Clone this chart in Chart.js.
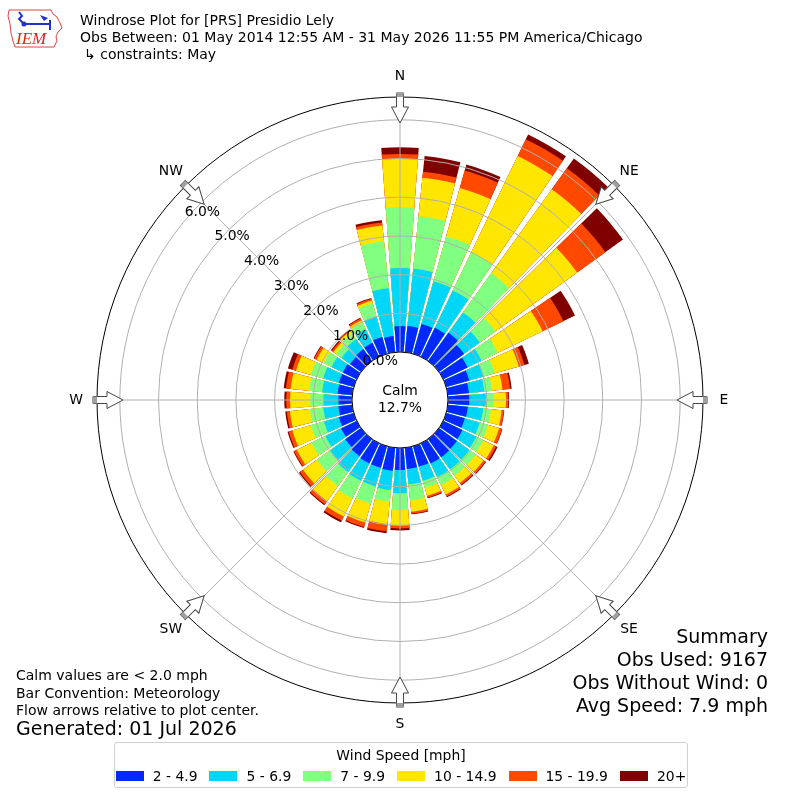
<!DOCTYPE html>
<html>
<head>
<meta charset="utf-8">
<script src="https://cdn.jsdelivr.net/npm/chart.js@4.4.1/dist/chart.umd.min.js"></script>
<style>
  body { margin: 0; background: #fff; font-family: "DejaVu Sans", sans-serif; color: #000; }
  #wrap { position: relative; width: 800px; height: 800px; overflow: hidden; background: #fff; }
  #rose { position: absolute; left: 0; top: 0; }
  .t { position: absolute; white-space: nowrap; line-height: 1; transform: translateY(-50%); }
  .s14 { font-size: 14px; }
  .s19 { font-size: 19px; }
  .r { text-align: right; right: 32px; }
  #legend { position: absolute; left: 114px; top: 742px; width: 574px; height: 46px;
            border: 1px solid #d0d0d0; border-radius: 3px; box-sizing: border-box; }
  #legend .title { position: absolute; left: 0; right: 0; top: 4px; text-align: center; font-size: 13.9px; }
  #legend .row { position: absolute; left: 0; right: 0; top: 25px; display: flex; justify-content: center; gap: 12px; font-size: 13.9px; }
  #legend .item { display: flex; align-items: center; gap: 9px; }
  #legend .sw { width: 28px; height: 10px; }
</style>
</head>
<body>
<div id="wrap">
  <canvas id="rose" width="800" height="800"></canvas>

  <div class="t s14" style="left:80px; top:20px;">Windrose Plot for [PRS] Presidio Lely</div>
  <div class="t s14" style="left:80px; top:37px;">Obs Between: 01 May 2014 12:55 AM - 31 May 2026 11:55 PM America/Chicago</div>
  <div class="t s14" style="left:84px; top:54px;">↳ constraints: May</div>

  <div class="t s19 r" style="top:636px;">Summary</div>
  <div class="t s19 r" style="top:659px;">Obs Used: 9167</div>
  <div class="t s19 r" style="top:682px;">Obs Without Wind: 0</div>
  <div class="t s19 r" style="top:705px;">Avg Speed: 7.9 mph</div>

  <div class="t s14" style="left:16px; top:675px;">Calm values are &lt; 2.0 mph</div>
  <div class="t s14" style="left:16px; top:693px;">Bar Convention: Meteorology</div>
  <div class="t s14" style="left:16px; top:710px;">Flow arrows relative to plot center.</div>
  <div class="t s19" style="left:16px; top:728px;">Generated: 01 Jul 2026</div>

  <div id="legend">
    <div class="title">Wind Speed [mph]</div>
    <div class="row" id="legendRow"></div>
  </div>
</div>

<script>
// wind direction bins (degrees, direction wind blows from)
const directions = [0, 10, 20, 30, 40, 50, 60, 70, 80, 90, 100, 110, 120, 130, 140, 150, 160, 170,
                    180, 190, 200, 210, 220, 230, 240, 250, 260, 270, 280, 290, 300, 310, 320, 330, 340, 350];

const speedBins = ['2 - 4.9', '5 - 6.9', '7 - 9.9', '10 - 14.9', '15 - 19.9', '20+'];
const binColors = ['#0028ff', '#00d6f8', '#80ff80', '#ffe600', '#ff4800', '#800000'];

// frequency (% of obs) per direction for each speed bin
const freq2to5 = [0.67, 0.68, 0.80, 0.83, 0.90, 0.80, 0.70, 0.62, 0.55, 0.55, 0.52, 0.50,
                  0.55, 0.57, 0.58, 0.58, 0.55, 0.55, 0.57, 0.60, 0.58, 0.58, 0.55, 0.50,
                  0.45, 0.40, 0.36, 0.35, 0.38, 0.40, 0.40, 0.35, 0.38, 0.40, 0.45, 0.42];
const freq5to7 = [1.50, 1.49, 1.15, 1.07, 0.65, 0.50, 0.40, 0.38, 0.40, 0.43, 0.40, 0.40,
                  0.40, 0.40, 0.39, 0.39, 0.38, 0.40, 0.60, 0.50, 0.50, 0.50, 0.50, 0.48,
                  0.45, 0.40, 0.39, 0.39, 0.40, 0.42, 0.32, 0.27, 0.32, 0.40, 0.55, 1.24];
const freq7to10 = [1.58, 1.36, 1.20, 1.10, 1.25, 0.50, 0.47, 0.30, 0.20, 0.19, 0.20, 0.22,
                   0.20, 0.20, 0.20, 0.23, 0.19, 0.42, 0.43, 0.30, 0.46, 0.50, 0.45, 0.42,
                   0.40, 0.35, 0.35, 0.34, 0.34, 0.33, 0.23, 0.18, 0.18, 0.18, 0.35, 1.22];
const freq10to15 = [1.25, 1.00, 1.30, 2.76, 2.67, 2.60, 1.28, 0.65, 0.27, 0.33, 0.28, 0.30,
                    0.30, 0.25, 0.23, 0.27, 0.21, 0.29, 0.40, 0.58, 0.51, 0.52, 0.48, 0.45,
                    0.42, 0.50, 0.52, 0.52, 0.48, 0.40, 0.20, 0.08, 0.07, 0.07, 0.08, 0.41];
const freq15to20 = [0.12, 0.16, 0.47, 0.48, 0.67, 0.90, 0.60, 0.15, 0.20, 0.06, 0.06, 0.08,
                    0.07, 0.06, 0.06, 0.06, 0.05, 0.05, 0.08, 0.19, 0.12, 0.12, 0.10, 0.10,
                    0.08, 0.10, 0.08, 0.10, 0.12, 0.10, 0.07, 0.05, 0.03, 0.05, 0.05, 0.08];
const freq20up = [0.17, 0.41, 0.16, 0.14, 0.31, 0.56, 0.33, 0.12, 0.04, 0.02, 0.01, 0.01,
                  0.04, 0.02, 0.02, 0.02, 0.02, 0.02, 0.05, 0.05, 0.03, 0.05, 0.03, 0.03,
                  0.02, 0.03, 0.04, 0.05, 0.06, 0.12, 0.02, 0.03, 0.02, 0.02, 0.02, 0.06];

const calmPct = 12.7;
const ringTicks = [0, 1, 2, 3, 4, 5, 6];
const compassLabels = ['N', 'NE', 'E', 'SE', 'S', 'SW', 'W', 'NW'];

const barWidth = 8.5;   // degrees
const gapWidth = 1.5;

// stack the bins, then interleave a blank slot after each bar
const binSeries = [freq2to5, freq5to7, freq7to10, freq10to15, freq15to20, freq20up];
const running = directions.map(() => 0);
const stacked = binSeries.map(series => series.map((v, i) => (running[i] += v)));

const labels = [];
directions.forEach(d => { labels.push(d + '°'); labels.push(''); });

const datasets = stacked.map((cum, b) => {
  const data = [];
  cum.forEach(v => { data.push(v); data.push(0); });
  return {
    label: speedBins[b],
    data: data,
    backgroundColor: ctx => ctx.dataIndex % 2 ? 'rgba(0,0,0,0)' : binColors[b],
    borderWidth: 0,
    angle: ctx => ctx.dataIndex % 2 ? gapWidth : barWidth
  };
});

function drawLogo(c) {
  c.save();
  c.textAlign = 'left';
  c.textBaseline = 'alphabetic';
  c.strokeStyle = '#d44';
  c.lineWidth = 1;
  c.beginPath();
  [[9, 10], [51, 10], [53, 14], [57, 17], [60, 23], [62, 28], [58, 32], [56, 37], [57, 41],
   [54, 47], [15, 47], [13, 41], [11, 33], [10, 24], [8, 16]].forEach(([x, y], i) => {
    if (i) c.lineTo(x, y); else c.moveTo(x, y);
  });
  c.closePath();
  c.stroke();
  c.fillStyle = '#d22';
  c.font = 'italic 17px "Liberation Serif"';
  c.fillText('IEM', 16, 44);
  c.strokeStyle = '#2233cc';
  c.fillStyle = '#2233cc';
  c.lineWidth = 2;
  c.beginPath();
  c.moveTo(19, 12); c.lineTo(22, 16); c.lineTo(19, 19); c.lineTo(23, 23);
  c.moveTo(24, 24); c.lineTo(50, 24);
  c.moveTo(50, 20); c.lineTo(50, 30);
  c.stroke();
  c.beginPath();
  c.moveTo(40, 15); c.lineTo(48, 18); c.lineTo(44, 21); c.closePath();
  c.fill();
  c.beginPath(); c.arc(24, 24, 2.5, 0, Math.PI * 2); c.fill();
  c.restore();
}

const roseDecor = {
  id: 'roseDecor',
  afterDraw(chart) {
    const s = chart.scales.r;
    const c = chart.ctx;
    const cx = s.xCenter, cy = s.yCenter;
    const rOut = s.drawingArea;
    const rCalm = s.getDistanceFromCenterForValue(0);
    const pt = (deg, r) => [cx + r * Math.sin(deg * Math.PI / 180), cy - r * Math.cos(deg * Math.PI / 180)];
    c.save();

    // spokes every 45 degrees
    c.strokeStyle = '#b0b0b0';
    c.lineWidth = 1;
    compassLabels.forEach((_, k) => {
      const [x1, y1] = pt(k * 45, rCalm);
      const [x2, y2] = pt(k * 45, rOut);
      c.beginPath(); c.moveTo(x1, y1); c.lineTo(x2, y2); c.stroke();
    });

    // calm circle
    c.beginPath();
    c.arc(cx, cy, rCalm, 0, Math.PI * 2);
    c.fillStyle = '#fff';
    c.fill();
    c.strokeStyle = '#000';
    c.stroke();

    // outer frame
    c.beginPath();
    c.arc(cx, cy, rOut, 0, Math.PI * 2);
    c.stroke();

    // flow arrows pointing toward the center
    compassLabels.forEach((_, k) => {
      c.save();
      c.translate(cx, cy);
      c.rotate(k * Math.PI / 4);
      const tail = -(rOut + 4), neck = -(rOut - 10), tip = -(rOut - 26);
      c.beginPath();
      c.moveTo(-3.5, tail); c.lineTo(3.5, tail); c.lineTo(3.5, neck); c.lineTo(8.5, neck);
      c.lineTo(0, tip); c.lineTo(-8.5, neck); c.lineTo(-3.5, neck); c.closePath();
      c.fillStyle = '#fff';
      c.fill();
      c.strokeStyle = '#444';
      c.stroke();
      c.fillStyle = '#a0a0a0';
      c.fillRect(-3.5, tail, 7, 4);
      c.restore();
    });

    c.fillStyle = '#000';
    c.textAlign = 'center';
    c.textBaseline = 'middle';
    c.font = '13.9px "DejaVu Sans"';

    // compass labels
    compassLabels.forEach((lab, k) => {
      const [x, y] = pt(k * 45, rOut + 21);
      c.fillText(lab, x, y);
    });

    // ring labels
    ringTicks.forEach(v => {
      const [x, y] = pt(310, s.getDistanceFromCenterForValue(v));
      c.fillText(v.toFixed(1) + '%', x + 17, y - 8);
    });

    // calm text
    c.fillText('Calm', cx, cy - 9);
    c.fillText(calmPct.toFixed(1) + '%', cx, cy + 8);

    drawLogo(c);
    c.restore();
  }
};

const ctx = document.getElementById('rose').getContext('2d');
const chart = new Chart(ctx, {
  type: 'polarArea',
  data: { labels: labels, datasets: datasets },
  options: {
    responsive: false,
    animation: false,
    events: [],
    layout: { padding: 97 },
    plugins: {
      legend: { display: false },
      tooltip: { enabled: false }
    },
    scales: {
      r: {
        min: -1.24,
        max: 6.59,
        startAngle: -barWidth / 2,
        ticks: { display: false },
        grid: { color: '#b0b0b0', lineWidth: 1, z: 1 },
        angleLines: { display: false },
        pointLabels: { display: false },
        afterBuildTicks: scale => { scale.ticks = ringTicks.map(v => ({ value: v })); }
      }
    }
  },
  plugins: [roseDecor]
});

// legend built from the same bins and colours
const row = document.getElementById('legendRow');
speedBins.forEach((name, b) => {
  const item = document.createElement('div');
  item.className = 'item';
  const sw = document.createElement('div');
  sw.className = 'sw';
  sw.style.background = binColors[b];
  const txt = document.createElement('span');
  txt.textContent = name;
  item.appendChild(sw);
  item.appendChild(txt);
  row.appendChild(item);
});
</script>
</body>
</html>
